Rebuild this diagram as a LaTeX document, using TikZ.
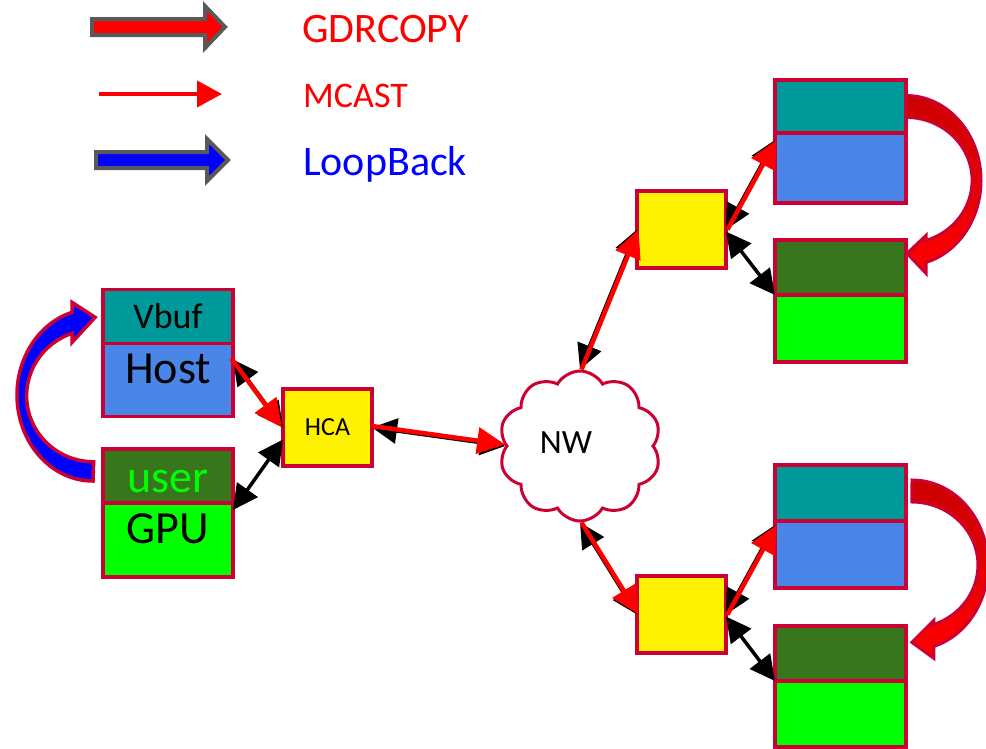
\documentclass[tikz,border=0pt]{standalone}
\usepackage{fontspec}
\setmainfont{Carlito}
\usepackage{tikz}
\usetikzlibrary{arrows.meta, positioning, shapes.symbols, calc}
\definecolor{rimred}{RGB}{204, 0, 51}
\definecolor{vbufteal}{RGB}{0, 153, 153}
\definecolor{hostblue}{RGB}{74, 134, 232}
\definecolor{userdark}{RGB}{56, 118, 29}
\definecolor{gpugreen}{RGB}{0, 255, 0}
\definecolor{keygray}{RGB}{89, 89, 89}
\definecolor{copydark}{RGB}{204, 0, 0}

\begin{document}
\begin{tikzpicture}[x=1pt, y=-1pt,
    box/.style={rectangle, draw=rimred, line width=3.5pt, minimum width=130pt, outer sep=0pt, inner sep=0pt},
    vbufbox/.style={box, fill=vbufteal, minimum height=54pt},
    hostbox/.style={box, fill=hostblue, minimum height=70pt},
    userbox/.style={box, fill=userdark, minimum height=55pt},
    gpubox/.style={box, fill=gpugreen, minimum height=67pt},
    swbox/.style={box, fill=yellow, minimum width=89pt, minimum height=77pt},
    lbl/.style={inner sep=0pt, anchor=base},
    keylbl/.style={inner sep=0pt, anchor=base west},
    linkarr/.style={{Triangle[length=25pt,width=25pt]}-{Triangle[length=25pt,width=25pt]}, line width=3.5pt, black},
    mcastarr/.style={-{Triangle[length=28pt,width=26pt]}, line width=4.5pt, red},
    copyarr/.style={draw=rimred, line width=3pt, line join=miter, top color=copydark, middle color=copydark, bottom color=red},
    loopback/.style={draw=rimred, line width=3.5pt, line join=miter, fill=blue},
    keyblock/.style={draw=keygray, line width=4pt, line join=miter}
]
    \useasboundingbox (0,0) rectangle (986,748);

    % Legend
    \coordinate (gdrkey) at (92,19);
    \filldraw[keyblock, fill=red] (gdrkey) -- ++(113,0) -- ++(0,-13) -- ++(20,21) -- ++(-20,21) -- ++(0,-13) -- ++(-113,0) -- cycle;
    \node[keylbl, text=red, font=\fontsize{42}{50}\selectfont] (gdrtext) at (302,42) {GDRCOPY};

    \coordinate (mcastfrom) at (99,94);
    \coordinate (mcastto) at (222,94);
    \draw[-{Triangle[length=25pt,width=26pt]}, line width=4pt, red] (mcastfrom) -- (mcastto);
    \node[keylbl, text=red, font=\fontsize{36}{43}\selectfont] (mcasttext) at (303,107) {MCAST};

    \coordinate (loopkey) at (96,152);
    \filldraw[keyblock, fill=blue] (loopkey) -- ++(111,0) -- ++(0,-13) -- ++(21,21) -- ++(-21,21) -- ++(0,-13) -- ++(-111,0) -- cycle;
    \node[keylbl, text=blue, font=\fontsize{42}{50}\selectfont] (looptext) at (303,175) {LoopBack};

    % Sender side
    \node[vbufbox] (vbuf) at (168,316.5) {};
    \node[hostbox, minimum height=73pt, below=0pt of vbuf] (host) {};
    \node[userbox, minimum height=54pt] (user) at (168,476) {};
    \node[gpubox, minimum height=74pt, below=0pt of user] (gpu) {};
    \node[lbl, font=\fontsize{36}{43}\selectfont] (vbuftext) at (168,328) {Vbuf};
    \node[lbl, font=\fontsize{46}{55}\selectfont] (hosttext) at (168,383) {Host};
    \node[lbl, text=gpugreen, font=\fontsize{46}{55}\selectfont] (usertext) at (168,492) {user};
    \node[lbl, font=\fontsize{46}{55}\selectfont] (gputext) at (168,543) {GPU};

    \node[swbox, font=\fontsize{26}{31}\selectfont] (hca) at (327.5,427.5) {HCA};

    % Network
    \node[cloud, cloud puffs=10, cloud puff arc=120, cloud ignores aspect, draw=rimred, line width=3pt, fill=white,
          minimum width=162pt, minimum height=150pt] (nw) at (580,446) {};
    \node[lbl, font=\fontsize{34}{41}\selectfont] (nwtext) at (566,453) {NW};

    % Receivers
    \node[swbox] (sw1) at (681.5,229.5) {};
    \node[vbufbox, minimum width=131pt, minimum height=53pt] (vbuf1) at (840.5,106.5) {};
    \node[hostbox, minimum width=131pt, below=0pt of vbuf1] (host1) {};
    \node[userbox, minimum width=131pt] (user1) at (840.5,267.5) {};
    \node[gpubox, minimum width=131pt, below=0pt of user1] (gpu1) {};

    \node[swbox] (sw2) at (681.5,614.5) {};
    \node[vbufbox, minimum width=131pt, minimum height=56pt] (vbuf2) at (840.5,493) {};
    \node[hostbox, minimum width=131pt, minimum height=67pt, below=0pt of vbuf2] (host2) {};
    \node[userbox, minimum width=131pt] (user2) at (840.5,653.5) {};
    \node[gpubox, minimum width=131pt, minimum height=66pt, below=0pt of user2] (gpu2) {};

    % Links
    \draw[linkarr] ([yshift=-16pt]host.north east) -- (hca.west);
    \draw[mcastarr] ([xshift=-1.5pt,yshift=-15pt]host.north east) -- ([xshift=-1pt]hca.west);
    \draw[linkarr] ([yshift=-7pt]gpu.north east) -- ([yshift=-12pt]hca.west);

    \draw[linkarr] (hca.east) -- (nw.west);
    \draw[mcastarr] ([yshift=1.5pt]hca.east) -- ([yshift=1.5pt]nw.west);

    \draw[linkarr] (nw.north) -- (sw1.west);
    \draw[mcastarr] ([xshift=1.5pt]nw.north) -- ([xshift=1.5pt]sw1.west);
    \draw[linkarr] (sw1.east) -- ([yshift=-7pt]host1.north west);
    \draw[mcastarr] ([xshift=1.5pt]sw1.east) -- ([xshift=1.5pt,yshift=-7pt]host1.north west);
    \draw[linkarr] ([yshift=-2pt]sw1.east) -- (user1.south west);

    \draw[linkarr] (nw.south) -- (sw2.west);
    \draw[mcastarr] ([xshift=1.5pt]nw.south) -- ([xshift=1.5pt]sw2.west);
    \draw[linkarr] (sw2.east) -- ([yshift=-4pt]host2.north west);
    \draw[mcastarr] ([xshift=1.5pt]sw2.east) -- ([xshift=1.5pt,yshift=-4pt]host2.north west);
    \draw[linkarr] ([yshift=-2pt]sw2.east) -- (user2.south west);

    % GDRCOPY and LoopBack
    \path[copyarr] ([yshift=11pt]vbuf1.east) arc[start angle=270, end angle=434.5, x radius=75, y radius=85]
        -- ++(0,11) -- ++(-19,-20) -- ++(19,-18) -- ++(0,5)
        arc[start angle=432.4, end angle=270, x radius=66, y radius=63] -- cycle;
    \path[copyarr] ([xshift=6pt,yshift=13pt]vbuf2.east) arc[start angle=270, end angle=433.2, x radius=76, y radius=85]
        -- ++(0,12) -- ++(-22,-16) -- ++(22,-22) -- ++(0,4)
        arc[start angle=430.5, end angle=270, x radius=66, y radius=63] -- cycle;
    \path[loopback] ([xshift=-10pt,yshift=-5pt]user.west) arc[start angle=90, end angle=254, x radius=76, y radius=86]
        -- ++(0,-10) -- ++(23,15) -- ++(-23,25) -- ++(0,-9)
        arc[start angle=251.2, end angle=90, x radius=67, y radius=66] -- cycle;
\end{tikzpicture}
\end{document}
